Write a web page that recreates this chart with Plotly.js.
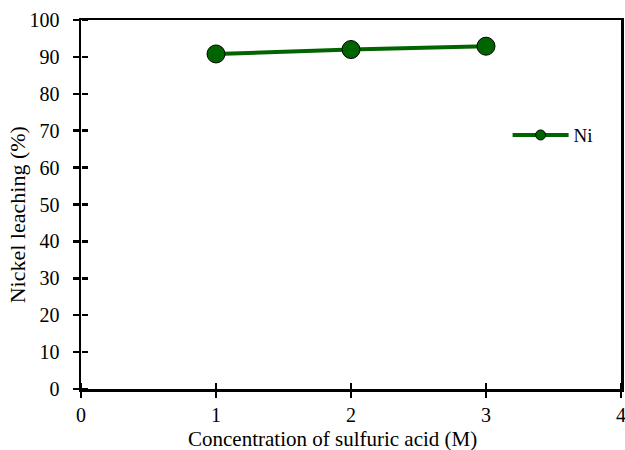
<!DOCTYPE html>
<html>
<head>
<meta charset="utf-8">
<script src="https://cdn.plot.ly/plotly-3.0.1.min.js"></script>
<style>html,body{margin:0;padding:0;background:#fff;}#chart{width:625px;height:450px;}</style>
</head>
<body>
<div id="chart"></div>
<script>
// Sulfuric acid concentration (M) vs nickel leaching efficiency (%)
const acidConc = [1, 2, 3];
const niLeaching = [90.8, 92.0, 92.9];
const seriesName = 'Ni';
const xTicks = [0, 1, 2, 3, 4];
const yTicks = [0, 10, 20, 30, 40, 50, 60, 70, 80, 90, 100];
const xTitle = 'Concentration of sulfuric acid (M)';
const yTitle = 'Nickel leaching (%)';

const green = '#006400';
const serif = '"Liberation Serif", "Times New Roman", serif';
const tickFont = {family: serif, size: 20, color: '#000'};

const traces = [
  {
    // transparent copy on the helper axes that carry the inward half of each tick
    x: acidConc, y: niLeaching, xaxis: 'x2', yaxis: 'y2', type: 'scatter', mode: 'markers',
    marker: {opacity: 0}, showlegend: false, hoverinfo: 'skip'
  },
  {
    x: acidConc, y: niLeaching, type: 'scatter', mode: 'lines+markers',
    name: seriesName, showlegend: false,
    line: {color: green, width: 4},
    marker: {color: green, size: 18, line: {color: '#000', width: 1}}
  },
  {
    // legend swatch with a smaller marker
    x: [null], y: [null], type: 'scatter', mode: 'lines+markers',
    name: seriesName, showlegend: true,
    line: {color: green, width: 4},
    marker: {color: green, size: 10, line: {color: '#000', width: 1}}
  }
];

const axisBase = {
  showgrid: false, zeroline: false,
  linecolor: '#000', linewidth: 2.5,
  tickcolor: '#000', tickwidth: 2.5, ticklen: 6,
  tickfont: tickFont, ticklabeloverflow: 'allow'
};

const layout = {
  width: 625, height: 450,
  margin: {l: 81, r: 4, t: 20, b: 61},
  paper_bgcolor: '#fff', plot_bgcolor: '#fff',
  font: tickFont,
  showlegend: true,
  legend: {x: 0.79, y: 0.688, xanchor: 'left', yanchor: 'middle',
           bgcolor: 'rgba(0,0,0,0)', font: {family: serif, size: 19, color: '#000'}, itemwidth: 56},
  xaxis: Object.assign({}, axisBase, {
    range: [0, 4], tickvals: xTicks, ticks: 'outside', mirror: true
  }),
  yaxis: Object.assign({}, axisBase, {
    range: [0, 100], tickvals: yTicks, ticks: 'outside', mirror: true,
    ticklabelstandoff: 9
  }),
  // top-sided x axis pinned to the bottom edge: its outward ticks point up into the plot
  xaxis2: Object.assign({}, axisBase, {
    range: [0, 4], tickvals: xTicks, ticks: 'outside', overlaying: 'x',
    side: 'top', anchor: 'free', position: 0,
    showticklabels: false, showline: false
  }),
  // right-sided y axis pinned to the left edge: its outward ticks point right into the plot
  yaxis2: Object.assign({}, axisBase, {
    range: [0, 100], tickvals: yTicks, ticks: 'outside', overlaying: 'y',
    side: 'right', anchor: 'free', position: 0,
    showticklabels: false, showline: false
  }),
  annotations: [
    {text: xTitle, xref: 'paper', yref: 'paper', x: 0.465, y: -0.135,
     xanchor: 'center', yanchor: 'middle', showarrow: false,
     font: {family: serif, size: 21, color: '#000'}},
    {text: yTitle, xref: 'paper', yref: 'paper', x: -0.117, y: 0.473, textangle: -90,
     xanchor: 'center', yanchor: 'middle', showarrow: false,
     font: {family: serif, size: 22, color: '#000'}}
  ]
};

Plotly.newPlot('chart', traces, layout, {displayModeBar: false, staticPlot: true});
</script>
</body>
</html>
